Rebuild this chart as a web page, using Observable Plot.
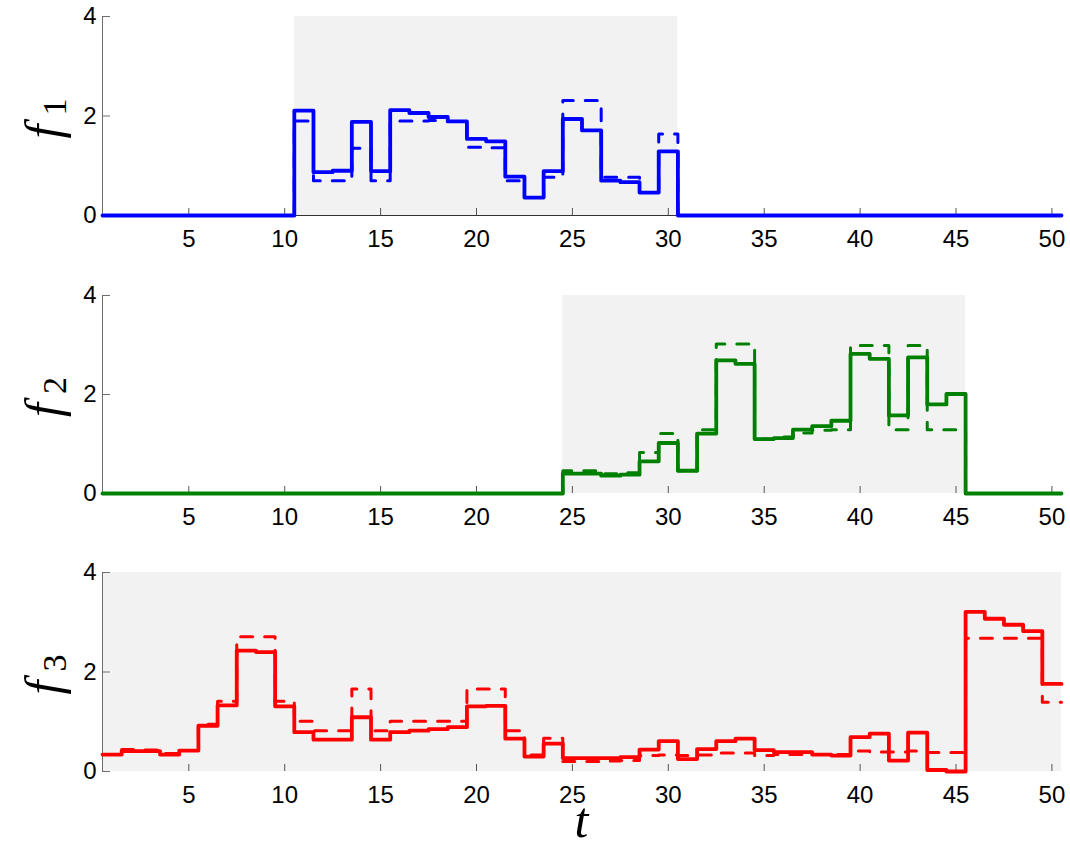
<!DOCTYPE html>
<html><head><meta charset="utf-8">
<script src="https://cdn.jsdelivr.net/npm/d3@7"></script>
<script src="https://cdn.jsdelivr.net/npm/@observablehq/plot@0.6"></script>
<style>
html,body{margin:0;padding:0;background:#fff;}
#chart{width:1070px;}
#chart svg{display:block;}
</style></head><body><div id="chart"></div>
<script>
// time steps
const t = d3.range(1, 51);
const xTicks = [5, 10, 15, 20, 25, 30, 35, 40, 45, 50];
const yTicks = [0, 2, 4];
const xDomain = [0.5, 50.5];
const yDomain = [0, 4];

// f1 (blue), active t = 11..30
const f1Solid = [0,0,0,0,0,0,0,0,0,0,
  2.11,0.87,0.90,1.88,0.89,2.12,2.06,1.98,1.89,1.54,
  1.49,0.78,0.36,0.89,1.94,1.71,0.70,0.67,0.46,1.29,
  0,0,0,0,0,0,0,0,0,0, 0,0,0,0,0,0,0,0,0,0];
const f1Dashed = [0,0,0,0,0,0,0,0,0,0,
  1.90,0.70,0.70,1.35,0.70,1.90,1.90,1.91,1.89,1.37,
  1.36,0.70,0.36,0.77,2.31,2.31,0.77,0.77,0.46,1.64,
  0,0,0,0,0,0,0,0,0,0, 0,0,0,0,0,0,0,0,0,0];

// f2 (green), active t = 25..45
const f2Solid = [0,0,0,0,0,0,0,0,0,0, 0,0,0,0,0,0,0,0,0,0, 0,0,0,0,
  0.40,0.40,0.36,0.38,0.65,1.02,0.46,1.21,2.69,2.62,
  1.10,1.12,1.29,1.36,1.47,2.82,2.72,1.58,2.75,1.80,2.01,
  0,0,0,0,0];
const f2Dashed = [0,0,0,0,0,0,0,0,0,0, 0,0,0,0,0,0,0,0,0,0, 0,0,0,0,
  0.46,0.46,0.40,0.42,0.83,1.21,0.46,1.29,3.02,3.02,
  1.10,1.14,1.22,1.28,1.29,2.99,2.99,1.29,2.99,1.29,1.29,
  0,0,0,0,0];

// f3 (red), active t = 1..50
const f3Solid = [0.34,0.41,0.41,0.34,0.42,0.92,1.33,2.43,2.40,1.31,
  0.79,0.64,0.64,1.09,0.64,0.79,0.82,0.85,0.89,1.31,
  1.32,0.66,0.30,0.56,0.27,0.27,0.27,0.29,0.44,0.61,
  0.25,0.45,0.61,0.66,0.43,0.39,0.39,0.34,0.32,0.69,
  0.76,0.22,0.78,0.03,0.00,3.21,3.07,2.95,2.82,1.76];
const f3Dashed = [0.34,0.44,0.43,0.36,0.42,0.95,1.41,2.71,2.71,1.41,
  1.01,0.82,0.82,1.66,0.82,1.01,1.01,1.01,1.01,1.66,
  1.66,0.82,0.33,0.67,0.20,0.20,0.21,0.22,0.32,0.33,
  0.32,0.33,0.37,0.37,0.32,0.34,0.34,0.34,0.34,0.41,
  0.39,0.39,0.41,0.38,0.38,2.68,2.68,2.68,2.68,1.39];

// active windows (shaded)
const windows = [[10.5, 30.5], [24.5, 45.5], [0.5, 50.5]];
const colors = ["#0000ff", "#008000", "#ff0000"];
const names = ["1", "2", "3"];
const solids = [f1Solid, f2Solid, f3Solid];
const dasheds = [f1Dashed, f2Dashed, f3Dashed];

function steps(values) {
  const pts = t.map((d, i) => ({x: d - 0.5, v: values[i]}));
  pts.push({x: t[t.length - 1] + 0.5, v: values[values.length - 1]});
  return pts;
}

const chart = document.getElementById("chart");

for (let i = 0; i < 3; i++) {
  const height = i === 2 ? 292 : 278;
  const marginTop = i === 1 ? 17 : 16;
  const marginBottom = i === 2 ? 77 : 63;
  const marks = [
    Plot.rect([windows[i]], {x1: d => d[0], x2: d => d[1], y1: yDomain[0], y2: yDomain[1], fill: "#f2f2f2"})
  ];
  if (i === 0) marks.push(Plot.ruleY([yDomain[0]], {stroke: "#333", strokeWidth: 1}));
  marks.push(
    Plot.ruleX([xDomain[0]], {stroke: "#6e6e6e", strokeWidth: 1}),
    Plot.axisX(xTicks, {tickSize: -7, tickPadding: 21, fontSize: 24, stroke: "#555", fill: "#000", label: null, tickFormat: d3.format("d")}),
    Plot.axisY(yTicks, {tickSize: -8, tickPadding: 14, fontSize: 24, stroke: "#6e6e6e", fill: "#000", label: null, tickFormat: d3.format("d")}),
    Plot.line(steps(dasheds[i]), {x: "x", y: "v", curve: "step-after", stroke: colors[i], strokeWidth: 3, strokeDasharray: "12,12"}),
    Plot.line(steps(solids[i]), {x: "x", y: "v", curve: "step-after", stroke: colors[i], strokeWidth: 3.8})
  );
  const plot = Plot.plot({
    width: 1070,
    height,
    marginLeft: 102,
    marginRight: 9,
    marginTop,
    marginBottom,
    style: {fontFamily: "'Liberation Sans', Arial, sans-serif", fontSize: "24px", background: "white", overflow: "visible"},
    x: {domain: xDomain, axis: null},
    y: {domain: yDomain, axis: null},
    marks
  });
  chart.appendChild(plot);
  const svg = d3.select(plot);
  const cy = marginTop + (height - marginTop - marginBottom) / 2 + 3;
  const lab = svg.append("text")
    .attr("transform", `translate(60, ${cy}) rotate(-90)`)
    .attr("text-anchor", "middle")
    .attr("font-family", "'Liberation Serif', 'DejaVu Serif', serif")
    .attr("font-size", 50)
    .attr("fill", "#000");
  lab.append("tspan").attr("font-style", "italic").text("f");
  lab.append("tspan").attr("font-size", 34).attr("dx", 9).attr("dy", 6).text(names[i]);
  if (i === 2) {
    svg.append("text")
      .attr("x", 102 + (1070 - 102 - 9) / 2)
      .attr("y", 281)
      .attr("text-anchor", "middle")
      .attr("font-family", "'Liberation Serif', 'DejaVu Serif', serif")
      .attr("font-style", "italic")
      .attr("font-size", 50)
      .attr("fill", "#000")
      .text("t");
  }
}
</script>
</body></html>
